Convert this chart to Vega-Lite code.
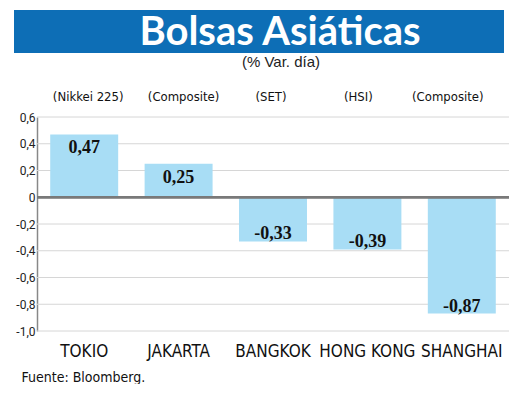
{
  "$schema": "https://vega.github.io/schema/vega-lite/v6.json",
  "padding": {"left": 14, "top": 10, "right": 0, "bottom": 0},
  "background": "white",
  "spacing": 2,
  "config": {
    "locale": {"number": {"decimal": ",", "thousands": ".", "grouping": [3], "currency": ["", " €"], "minus": "-"}},
    "view": {"stroke": null}
  },
  "vconcat": [
    {
      "width": 490,
      "height": 43,
      "view": {"fill": "#0D6EB6", "stroke": null},
      "data": {"values": [{"titulo": "Bolsas Asiáticas"}]},
      "mark": {"type": "text", "font": "Lato", "fontWeight": "bold", "fontSize": 40, "color": "white", "baseline": "middle", "align": "center", "dx": 21, "dy": 1},
      "encoding": {"text": {"field": "titulo"}}
    },
    {
      "spacing": 0,
      "hconcat": [
        {
          "width": 1,
          "height": 1,
          "data": {"values": [{"vacio": ""}]},
          "mark": {"type": "text"},
          "encoding": {"text": {"field": "vacio"}}
        },
        {
          "width": 472,
          "height": 214,
          "title": {"text": "(% Var. día)", "font": "Liberation Sans", "fontSize": 15, "fontWeight": "normal", "color": "#222", "offset": 20, "dx": 8, "anchor": "middle"},
          "data": {"values": [
            {"pais": "TOKIO", "indice": "(Nikkei 225)", "valor": 0.47},
            {"pais": "JAKARTA", "indice": "(Composite)", "valor": 0.25},
            {"pais": "BANGKOK", "indice": "(SET)", "valor": -0.33},
            {"pais": "HONG KONG", "indice": "(HSI)", "valor": -0.39},
            {"pais": "SHANGHAI", "indice": "(Composite)", "valor": -0.87}
          ]},
          "resolve": {"axis": {"x": "independent", "y": "independent"}},
          "layer": [
            {
              "data": {"values": [{"linea": -1}, {"linea": -0.8}, {"linea": -0.6}, {"linea": -0.4}, {"linea": -0.2}, {"linea": 0.2}, {"linea": 0.4}, {"linea": 0.6}]},
              "mark": {"type": "rule", "color": "#d6d6d6", "strokeWidth": 1},
              "encoding": {"y": {"field": "linea", "type": "quantitative", "axis": null}}
            },
            {
              "mark": {"type": "bar", "color": "#A8DDF5"},
              "encoding": {
                "x": {"field": "pais", "type": "nominal", "sort": null,
                  "scale": {"paddingInner": 0.28, "paddingOuter": 0.14},
                  "axis": {"orient": "bottom", "domain": false, "ticks": false, "grid": false, "labelAngle": 0,
                    "labelFont": "DejaVu Sans Condensed", "labelFontSize": 17, "labelColor": "#111", "labelPadding": 12,
                    "title": "Fuente: Bloomberg.", "titleFont": "DejaVu Sans Condensed", "titleFontSize": 14, "titleFontWeight": "normal", "titleColor": "#111",
                    "titleAnchor": "start", "titleAlign": "left", "titleX": -16, "titlePadding": 11}},
                "y": {"field": "valor", "type": "quantitative",
                  "scale": {"domain": [-1, 0.6], "nice": false, "zero": false},
                  "axis": {"title": null, "values": [-1, -0.8, -0.6, -0.4, -0.2, 0, 0.2, 0.4, 0.6], "format": ".1f",
                    "labelExpr": "datum.value == 0 ? '0' : datum.label", "labelOverlap": false, "labelBound": false, "labelFlush": false,
                    "domainColor": "#888", "domainWidth": 1.5, "ticks": false, "grid": false,
                    "labelFont": "Roboto", "labelFontSize": 12, "labelColor": "#222", "labelPadding": 2}}
              }
            },
            {
              "transform": [{"filter": "datum.valor > 0"}],
              "mark": {"type": "text", "font": "Liberation Serif", "fontWeight": "bold", "fontSize": 18, "color": "#111", "baseline": "alphabetic", "dy": 19},
              "encoding": {
                "x": {"field": "pais", "type": "nominal", "sort": null,
                  "axis": {"orient": "top", "domain": false, "ticks": false, "grid": false, "labelAngle": 0, "title": null,
                    "labelFont": "DejaVu Sans Condensed", "labelFontSize": 13, "labelFontWeight": "normal", "labelColor": "#111", "labelPadding": 14,
                    "labelExpr": "datum.value == 'TOKIO' ? '(Nikkei 225)' : datum.value == 'JAKARTA' ? '(Composite)' : datum.value == 'BANGKOK' ? '(SET)' : datum.value == 'HONG KONG' ? '(HSI)' : '(Composite)'",
                    "labelOffset": {"condition": [
                      {"test": "datum.value == 'TOKIO'", "value": 4},
                      {"test": "datum.value == 'JAKARTA'", "value": 5},
                      {"test": "datum.value == 'BANGKOK'", "value": -2},
                      {"test": "datum.value == 'HONG KONG'", "value": -9}
                    ], "value": -14}}},
                "y": {"field": "valor", "type": "quantitative", "axis": null},
                "text": {"field": "valor", "type": "quantitative", "format": ".2f"}
              }
            },
            {
              "transform": [{"filter": "datum.valor < 0"}],
              "mark": {"type": "text", "font": "Liberation Serif", "fontWeight": "bold", "fontSize": 18, "color": "#111", "baseline": "alphabetic", "dy": -2},
              "encoding": {
                "x": {"field": "pais", "type": "nominal", "sort": null, "axis": null},
                "y": {"field": "valor", "type": "quantitative", "axis": null},
                "text": {"field": "valor", "type": "quantitative", "format": ".2f"}
              }
            },
            {
              "mark": {"type": "rule", "color": "#7a7a7a", "strokeWidth": 2},
              "encoding": {"y": {"datum": 0, "axis": null}}
            }
          ]
        }
      ]
    }
  ]
}
